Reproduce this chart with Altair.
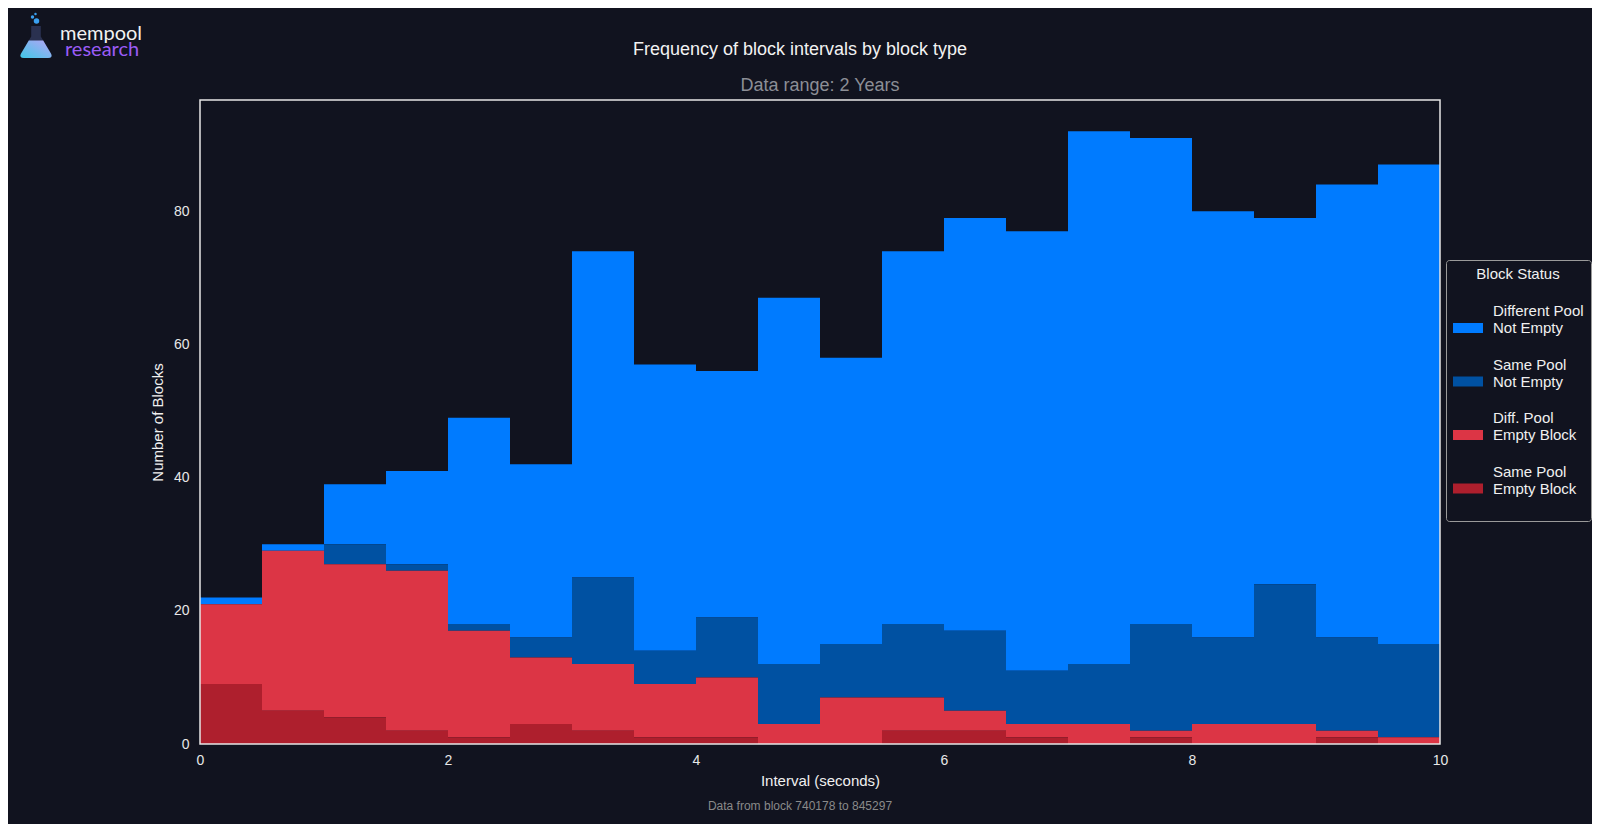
import altair as alt
import pandas as pd

# ---- data ----
bin_starts = [0.0, 0.5, 1.0, 1.5, 2.0, 2.5, 3.0, 3.5, 4.0, 4.5,
              5.0, 5.5, 6.0, 6.5, 7.0, 7.5, 8.0, 8.5, 9.0, 9.5]
bin_ends = [0.5, 1.0, 1.5, 2.0, 2.5, 3.0, 3.5, 4.0, 4.5, 5.0,
            5.5, 6.0, 6.5, 7.0, 7.5, 8.0, 8.5, 9.0, 9.5, 10.0]

same_pool_empty = [9, 5, 4, 2, 1, 3, 2, 1, 1, 0, 0, 2, 2, 1, 0, 1, 0, 0, 1, 0]
diff_pool_empty = [12, 24, 23, 24, 16, 10, 10, 8, 9, 3, 7, 5, 3, 2, 3, 1, 3, 3, 1, 1]
same_pool_not_empty = [0, 0, 3, 1, 1, 3, 13, 5, 9, 9, 8, 11, 12, 8, 9, 16, 13, 21, 14, 14]
diff_pool_not_empty = [1, 1, 9, 14, 31, 26, 49, 43, 37, 55, 43, 56, 62, 66, 80, 73, 64, 55, 68, 72]

statuses = ["Different Pool\nNot Empty", "Same Pool\nNot Empty",
            "Diff. Pool\nEmpty Block", "Same Pool\nEmpty Block"]
colors = ["#007bff", "#0051a2", "#dc3545", "#ae1f2d"]
series = [diff_pool_not_empty, same_pool_not_empty, diff_pool_empty, same_pool_empty]
stack_order = [3, 2, 1, 0]  # bottom of stack = Same Pool Empty Block

rows = []
for status, counts, order in zip(statuses, series, stack_order):
    for x0, x1, c in zip(bin_starts, bin_ends, counts):
        rows.append({"x0": x0, "x1": x1, "count": c, "status": status, "order": order})
df = pd.DataFrame(rows)

BG = "#11131f"
FONT = "Liberation Sans"
W, H = 1240, 644

label_expr = ("split(datum.label == 'Same Pool\\nEmpty Block' ? datum.label + '\\n ' : datum.label, '\\n')")

bars = (
    alt.Chart(df)
    .transform_stack(stack="count", groupby=["x0"], as_=["y0", "y1"],
                     sort=[alt.SortField("order", order="ascending")])
    .mark_rect()
    .encode(
        x=alt.X("x0:Q", scale=alt.Scale(domain=[0, 10], nice=False, zero=False),
                axis=alt.Axis(values=[0, 2, 4, 6, 8, 10], format="d", title="Interval (seconds)",
                              labelFontSize=14, labelColor="#e8e8e8", labelFlush=False,
                              titleFontSize=15, titleFontWeight="normal", titleColor="#f0f0f0",
                              ticks=False, domain=False, grid=False, labelPadding=9, titlePadding=6)),
        x2="x1:Q",
        y=alt.Y("y1:Q", scale=alt.Scale(domain=[0, 96.7], nice=False),
                axis=alt.Axis(values=[0, 20, 40, 60, 80], format="d", title="Number of Blocks",
                              labelFontSize=14, labelColor="#e8e8e8", labelFlush=False,
                              titleFontSize=15, titleFontWeight="normal", titleColor="#f0f0f0",
                              ticks=False, domain=False, grid=False, labelPadding=11, titlePadding=8)),
        y2="y0:Q",
        color=alt.Color(
            "status:N",
            scale=alt.Scale(domain=statuses, range=colors),
            legend=alt.Legend(
                title="Block Status", orient="none", legendX=1246, legendY=160,
                direction="vertical", titleAnchor="middle",
                labelExpr=label_expr,
                symbolType="M-1,0.8L1,0.8L1,1.467L-1,1.467Z", symbolSize=900,
                symbolStrokeWidth=0, symbolOpacity=1, labelOffset=10, rowPadding=13.5,
                padding=7, strokeColor="#9a9a9a", fillColor=BG, cornerRadius=3,
                titlePadding=14, labelFontSize=15, titleFontSize=15,
                labelColor="#f0f0f0", titleColor="#f0f0f0", titleFontWeight="normal",
                labelFont=FONT, titleFont=FONT, labelLimit=200,
            ),
        ),
    )
)

frame = (
    alt.Chart(pd.DataFrame({"a": [0]}))
    .mark_rect(fill="transparent", stroke="#e6e6e6", strokeWidth=1.5)
    .encode(x=alt.value(0), x2=alt.value(W), y=alt.value(0), y2=alt.value(H))
)


def label(text, x, y, size, color, font=FONT, align="center", baseline="middle"):
    return (
        alt.Chart(pd.DataFrame({"t": [text]}))
        .mark_text(align=align, baseline=baseline, fontSize=size, color=color, font=font)
        .encode(x=alt.value(x), y=alt.value(y), text="t:N")
    )


title = label("Frequency of block intervals by block type", 600, -50, 18, "#f2f2f2")
subtitle = label("Data range: 2 Years", 620, -14, 18, "#8c8e96")
footer = label("Data from block 740178 to 845297", 600, 706, 12, "#8a8a8a")
logo1 = label("mempool", -140, -60, 20, "#f2f2f2", font="Lato", align="left", baseline="alphabetic")
logo2 = label("research", -135, -44, 20, "#9b5cf6", font="Lato", align="left", baseline="alphabetic")

flask_outline = "M-0.3,-1L0.3,-1L0.3,-0.35L0.95,0.75Q1.05,1 0.75,1L-0.75,1Q-1.05,1 -0.95,0.75L-0.3,-0.35Z"
flask_liquid = "M-0.45,-0.1L0.45,-0.1L0.95,0.75Q1.05,1 0.75,1L-0.75,1Q-1.05,1 -0.95,0.75Z"
one = pd.DataFrame({"a": [0]})
flask1 = alt.Chart(one).mark_point(shape=flask_outline, size=1024, filled=True, fill="#2a3150",
                                   opacity=1, strokeWidth=0).encode(x=alt.value(-164), y=alt.value(-58))
flask2 = alt.Chart(one).mark_point(
    shape=flask_liquid, size=1024, filled=True, opacity=1, strokeWidth=0,
    fill=alt.LinearGradient(gradient="linear",
                            stops=[alt.GradientStop(color="#b7a4f5", offset=0),
                                   alt.GradientStop(color="#3fc8e8", offset=1)],
                            x1=1, x2=0, y1=0, y2=1),
).encode(x=alt.value(-164), y=alt.value(-58))
bubble1 = alt.Chart(one).mark_point(shape="circle", size=30, filled=True, fill="#3aa0f0",
                                    opacity=1).encode(x=alt.value(-163.5), y=alt.value(-79))
bubble2 = alt.Chart(one).mark_point(shape="circle", size=12, filled=True, fill="#3aa0f0",
                                    opacity=1).encode(x=alt.value(-167.5), y=alt.value(-83))
bubble3 = alt.Chart(one).mark_point(shape="circle", size=6, filled=True, fill="#3aa0f0",
                                    opacity=1).encode(x=alt.value(-164.5), y=alt.value(-86))

chart = (
    alt.layer(bars, frame, title, subtitle, footer, logo1, logo2,
              flask1, flask2, bubble1, bubble2, bubble3)
    .properties(width=W, height=H,
                padding={"left": 192, "top": 92, "right": 152, "bottom": 80},
                autosize=alt.AutoSizeParams(type="none"))
    .configure(background=BG, font=FONT)
    .configure_view(stroke="transparent")
)

chart.save("out.html", embed_options={"renderer": "svg", "actions": False})
